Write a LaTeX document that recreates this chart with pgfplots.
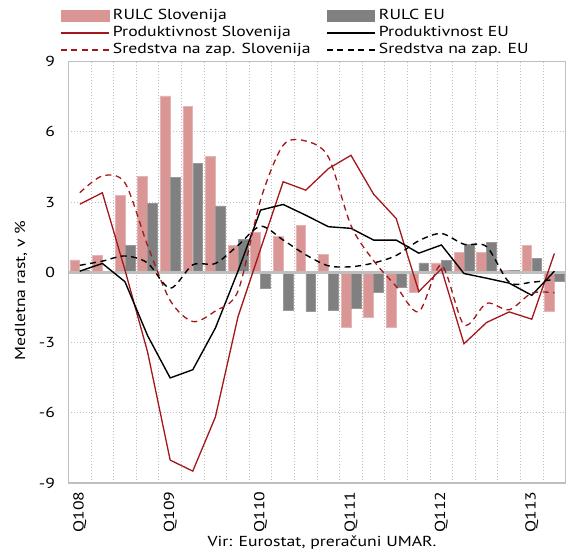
\documentclass[border=0pt]{standalone}
\usepackage{fontspec}
\setmainfont{PT Sans}[FakeStretch=1.22]
\usepackage{pgfplots}
\usepackage{pgfplotstable}
\pgfplotsset{compat=1.18}
\usetikzlibrary{calc}

\definecolor{rulcsi}{HTML}{D99694}
\definecolor{rulceu}{HTML}{808080}
\definecolor{linered}{HTML}{A3161B}
\definecolor{axgray}{HTML}{BFBFBF}

% quarterly data, Q1 2008 = 0 ... Q2 2013 = 21
\pgfplotstableread{
q  pink   gray   prodsi  prodeu  sredsi  sredeu
0   0.53   0.10   2.91    0.05    3.40    0.30
1   0.72   0.02   3.40    0.38    4.12    0.48
2   3.30   1.15   0.10   -0.40    3.82    0.70
3   4.10   2.93  -3.40   -2.70    1.15    0.40
4   7.54   4.05  -8.02   -4.51   -1.20   -0.68
5   7.10   4.64  -8.49   -4.16   -2.10    0.32
6   4.97   2.84  -6.18   -2.38   -1.65    0.38
7   1.15   1.40  -1.90    0.05   -0.80    1.15
8   1.69  -0.68   1.00    2.66    3.10    1.97
9   1.52  -1.60   3.87    2.90    5.43    1.38
10  2.00  -1.66   3.51    2.44    5.61    0.75
11  0.78  -1.60   4.43    1.95    4.93    0.28
12 -2.34  -1.53   5.00    1.88    2.00    0.24
13 -1.91  -0.87   3.34    1.38    0.50    0.40
14 -2.34  -0.62   2.30    1.38   -0.60    0.72
15 -0.84   0.40  -0.82    0.82   -1.68    1.35
16  0.40   0.52   0.15    1.17    0.31    1.66
17  0.84   1.19  -3.05   -0.05   -2.24    1.20
18  0.84   1.27  -2.14   -0.25   -1.32    1.10
19  0.08   0.07  -1.69   -0.46   -1.60   -0.42
20  1.14   0.58  -2.00   -0.98   -0.89   -0.42
21 -1.65  -0.37   0.81    0.05   -0.87   -0.30
}\datatable

\begin{document}
\begin{tikzpicture}
\begin{axis}[
  scale only axis,
  width=497.5pt, height=421.6pt,
  xmin=-0.5, xmax=21.5, ymin=-9, ymax=9,
  xtick={0,4,8,12,16,20},
  xticklabels={Q108,Q109,Q110,Q111,Q112,Q113},
  minor xtick={-0.5,0.5,...,21.5},
  xminorgrids=true,
  ytick={-9,-6,-3,0,3,6,9},
  yticklabels={-9,-6,-3,0,3,6,9},
  ymajorgrids=true,
  grid style={draw=axgray, line width=0.8pt, dash pattern=on 1pt off 2pt},
  minor grid style={draw=axgray, line width=0.8pt, dash pattern=on 1pt off 2pt},
  major tick length=0pt, minor tick length=0pt,
  axis line style={draw=axgray, line width=1.5pt},
  tick label style={font=\fontsize{14.5}{17}\selectfont},
  xticklabel style={rotate=90, anchor=east, xshift=-5pt},
  yticklabel style={xshift=-10pt},
  label style={font=\fontsize{14.5}{17}\selectfont},
  ylabel={Medletna rast, v \%},
  ylabel style={at={(axis description cs:-0.0955,0.457)}, anchor=center},
  xlabel={Vir: Eurostat, preračuni UMAR.},
  xlabel style={at={(axis description cs:0.51,-0.141)}, anchor=center},
  legend columns=2,
  legend cell align=left,
  legend style={at={(axis description cs:-0.017,1.125)}, anchor=north west,
    draw=none, fill=none, inner sep=0pt,
    font=\fontsize{14.5}{17}\selectfont,
    nodes={inner xsep=3.5pt, inner ysep=0pt, text height=10.5pt, text depth=3pt},
    row sep=3.5pt,
    /tikz/every even column/.append style={column sep=12pt}},
  legend image code/.code={\draw[#1] (0pt,0pt) -- (48pt,0pt);},
]
\coordinate (bl) at (rel axis cs:0,0);
\coordinate (tr) at (rel axis cs:1,1);

\addplot[ybar, bar width=9.7pt, bar shift=-5pt, fill=rulcsi, draw=rulcsi!70!white, line width=0.6pt,
  legend image code/.code={\fill[rulcsi] (0pt,-5.5pt) rectangle (48pt,5.5pt);}]
  table[x=q, y=pink] {\datatable};
\addlegendentry{RULC Slovenija}
\addplot[ybar, bar width=9.7pt, bar shift=5pt, fill=rulceu, draw=rulceu!80!white, line width=0.6pt,
  legend image code/.code={\fill[rulceu] (0pt,-5.5pt) rectangle (48pt,5.5pt);}]
  table[x=q, y=gray] {\datatable};
\addlegendentry{RULC EU}

% zero line
\addplot[forget plot, draw=axgray, line width=2.8pt] coordinates {(-0.5,0) (21.5,0)};

\addplot[linered, line width=1.3pt] table[x=q, y=prodsi] {\datatable};
\addlegendentry{Produktivnost Slovenija}
\addplot[black, line width=1.4pt] table[x=q, y=prodeu] {\datatable};
\addlegendentry{Produktivnost EU}
\addplot[linered, line width=1.3pt, smooth, dash pattern=on 6pt off 4.5pt] table[x=q, y=sredsi] {\datatable};
\addlegendentry{Sredstva na zap. Slovenija}
\addplot[black, line width=1.4pt, smooth, dash pattern=on 6pt off 4.5pt] table[x=q, y=sredeu] {\datatable};
\addlegendentry{Sredstva na zap. EU}
\end{axis}
\pgfresetboundingbox
\path ($(bl)+(-68.5pt,-71.7pt)$) rectangle ($(tr)+(1.3pt,61.7pt)$);
\end{tikzpicture}
\end{document}
